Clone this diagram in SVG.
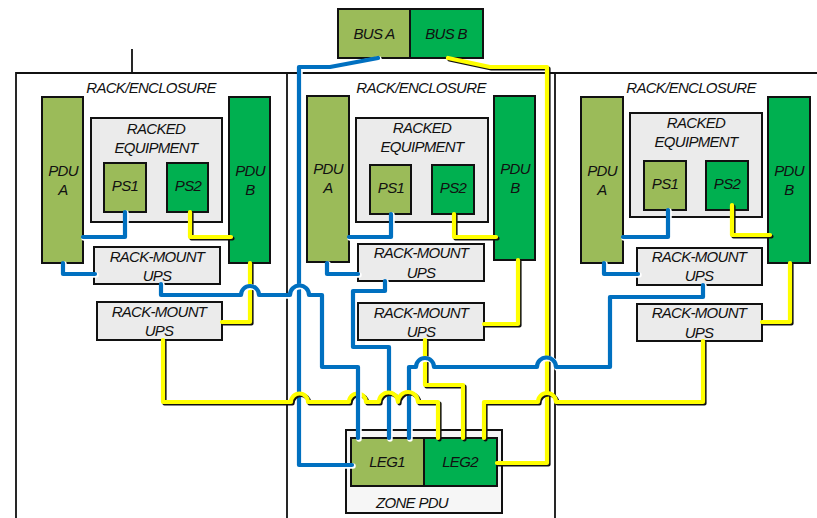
<svg xmlns="http://www.w3.org/2000/svg" width="817" height="518" viewBox="0 0 817 518">
<style>
text{font-family:"Liberation Sans",Arial,sans-serif;font-style:italic;font-size:15px;letter-spacing:-.7px;fill:#111;text-anchor:middle}
.a{fill:#9bbb59;stroke:#111;stroke-width:2}
.b{fill:#00b050;stroke:#111;stroke-width:2}
.g{fill:#ebebeb;stroke:#111;stroke-width:2}
.z{fill:#f6f6f6;stroke:#111;stroke-width:2}
.f{fill:none;stroke:#111;stroke-width:1.800}
.c{fill:none;stroke-linejoin:round;stroke-linecap:round}
.bl{stroke:#0070c0;stroke-width:4.200}
.ye{stroke:#ffff00;stroke-width:4.200}
.sb{stroke:#fff;stroke-width:5.500}
.sy{stroke:#111;stroke-width:4.200}
</style>
<defs>
<path id="bus-a" d="M378 58L330 67H299V465H352"/>
<path id="y-main" d="M163 340V402H291a8.500 8.500 0 0 1 17 0H349a8.500 8.500 0 0 1 17 0H379a8.500 8.500 0 0 1 19 0a10 10 0 0 1 20 0H438V438"/>
<path id="y-bus" d="M448 58L490 67H547V463H497"/>
<path id="y-r3" d="M703 341V402H556a9 9 0 0 0 -18 0H484V438"/>
<path id="y-small" d="M190 212V237H231M250 263V322H222M454 214V237H496M518 260V324H484M732 205V235H770M790 263V322H762"/>
<path id="y-425" d="M425 340V385H463V438"/>
<path id="b-small" d="M125 212V237H83M63 263V274H95M391 214V237H349M327 263V274H358M668 210V237H623M604 263V274H638"/>
<path id="b-r1" d="M161 284V295H241a9 9 0 0 1 18 0H290a9.500 9.500 0 0 1 19 0H322V367H358V438"/>
<path id="b-r2" d="M385 281V291H353V347H389V438"/>
<path id="b-r3" d="M703 285V297H610V367H556a9.500 9.500 0 0 0 -19 0H434a9 9 0 0 0 -18 0H409V438"/>
</defs>
<g id="frame">
<path class="f" d="M16 518V73H817M287 73V518M555 73V518M132 49V73"/>
</g>
<g id="bus-a-node"><rect class="a" x="338" y="9" width="72" height="49"/><text x="374" y="39">BUS A</text></g>
<g id="bus-b-node"><rect class="b" x="410" y="9" width="73" height="49"/><text x="446" y="39">BUS B</text></g>

<g id="rack1">
<text x="151" y="93">RACK/ENCLOSURE</text>
<g id="r1-pdu-a"><rect class="a" x="42" y="97" width="41" height="166"/><text x="63" y="176">PDU</text><text x="63" y="195">A</text></g>
<g id="r1-pdu-b"><rect class="b" x="229" y="97" width="41" height="166"/><text x="250" y="176">PDU</text><text x="250" y="195">B</text></g>
<g id="r1-eq"><rect class="g" x="91" y="118" width="131" height="104"/><text x="156" y="134">RACKED</text><text x="156" y="153">EQUIPMENT</text></g>
<g id="r1-ps1"><rect class="a" x="104" y="163" width="42" height="49"/><text x="125" y="191">PS1</text></g>
<g id="r1-ps2"><rect class="b" x="167" y="163" width="41" height="49"/><text x="188" y="191">PS2</text></g>
<g id="r1-ups1"><rect class="g" x="94" y="247" width="126" height="37"/><text x="157" y="262">RACK-MOUNT</text><text x="157" y="281">UPS</text></g>
<g id="r1-ups2"><rect class="g" x="97" y="302" width="125" height="38"/><text x="159" y="317">RACK-MOUNT</text><text x="159" y="336">UPS</text></g>
</g>
<g id="rack2">
<text x="421" y="93">RACK/ENCLOSURE</text>
<g id="r2-pdu-a"><rect class="a" x="307" y="96" width="42" height="166"/><text x="328" y="174">PDU</text><text x="328" y="193">A</text></g>
<g id="r2-pdu-b"><rect class="b" x="494" y="96" width="41" height="164"/><text x="515" y="174">PDU</text><text x="515" y="193">B</text></g>
<g id="r2-eq"><rect class="g" x="356" y="118" width="132" height="104"/><text x="422" y="133">RACKED</text><text x="422" y="152">EQUIPMENT</text></g>
<g id="r2-ps1"><rect class="a" x="370" y="165" width="41" height="49"/><text x="391" y="193">PS1</text></g>
<g id="r2-ps2"><rect class="b" x="432" y="165" width="42" height="49"/><text x="453" y="193">PS2</text></g>
<g id="r2-ups1"><rect class="g" x="358" y="244" width="126" height="37"/><text x="421" y="258">RACK-MOUNT</text><text x="421" y="278">UPS</text></g>
<g id="r2-ups2"><rect class="g" x="358" y="303" width="126" height="37"/><text x="421" y="318">RACK-MOUNT</text><text x="421" y="337">UPS</text></g>
</g>
<g id="rack3">
<text x="691" y="93">RACK/ENCLOSURE</text>
<g id="r3-pdu-a"><rect class="a" x="581" y="97" width="42" height="166"/><text x="602" y="176">PDU</text><text x="602" y="195">A</text></g>
<g id="r3-pdu-b"><rect class="b" x="768" y="97" width="42" height="166"/><text x="789" y="176">PDU</text><text x="789" y="195">B</text></g>
<g id="r3-eq"><rect class="g" x="630" y="113" width="132" height="104"/><text x="696" y="128">RACKED</text><text x="696" y="147">EQUIPMENT</text></g>
<g id="r3-ps1"><rect class="a" x="644" y="161" width="42" height="49"/><text x="665" y="189">PS1</text></g>
<g id="r3-ps2"><rect class="b" x="706" y="161" width="42" height="49"/><text x="727" y="189">PS2</text></g>
<g id="r3-ups1"><rect class="g" x="637" y="248" width="125" height="37"/><text x="699" y="262">RACK-MOUNT</text><text x="699" y="281">UPS</text></g>
<g id="r3-ups2"><rect class="g" x="637" y="304" width="125" height="37"/><text x="699" y="318">RACK-MOUNT</text><text x="699" y="338">UPS</text></g>
</g>
<g id="zone-pdu">
<rect class="z" x="346" y="430" width="156" height="83"/><text x="412" y="508">ZONE PDU</text>
<g id="leg1"><rect class="a" x="351" y="438" width="73" height="48"/><text x="387" y="467">LEG1</text></g>
<g id="leg2"><rect class="b" x="424" y="438" width="73" height="48"/><text x="460" y="467">LEG2</text></g>
</g>
<g id="connectors" class="c">
<use href="#bus-a" class="sb" x="1" y="1"/><use href="#bus-a" class="bl"/>
<use href="#y-bus" class="sy" x="1.500" y="1.500"/><use href="#y-bus" class="ye"/>
<use href="#y-425" class="sy" x="1.500" y="1.500"/><use href="#y-425" class="ye"/>
<use href="#b-r2" class="sb" x="1" y="1"/><use href="#b-r2" class="bl"/>
<use href="#b-r3" class="sb" x="1" y="1"/><use href="#b-r3" class="bl"/>
<use href="#y-r3" class="sy" x="1.500" y="1.500"/><use href="#y-r3" class="ye"/>
<use href="#y-main" class="sy" x="1.500" y="1.500"/><use href="#y-main" class="ye"/>
<use href="#y-small" class="sy" x="1.500" y="1.500"/><use href="#y-small" class="ye"/>
<use href="#b-small" class="sb" x="1" y="1"/><use href="#b-small" class="bl"/>
<use href="#b-r1" class="sb" x="1" y="1"/><use href="#b-r1" class="bl"/>
</g>
</svg>
